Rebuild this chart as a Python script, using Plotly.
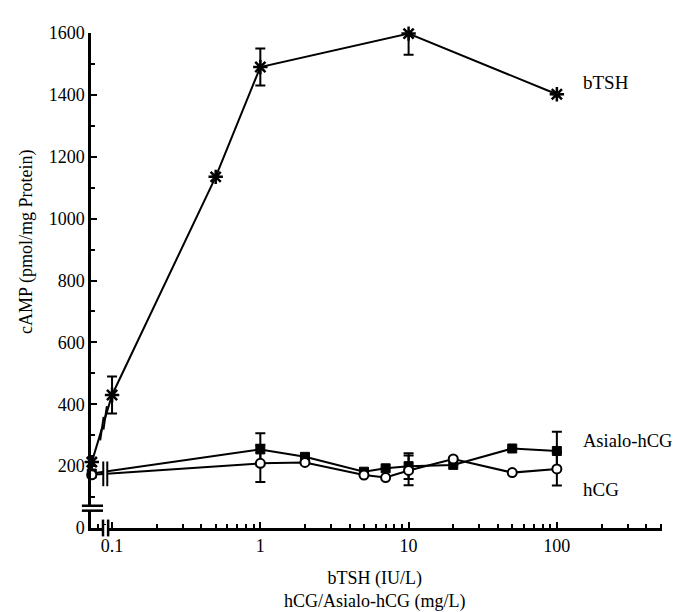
import math
import plotly.graph_objects as go

# ---------------- data ----------------
control_dose = 0.073   # plotted at the broken origin (control, no hormone)
btsh_dose = [control_dose, 0.1, 0.5, 1, 10, 100]
btsh_camp = [213, 430, 1135, 1490, 1598, 1402]
btsh_err = [0, 60, 0, 60, 68, 0]

hcg_dose = [control_dose, 1, 2, 5, 7, 10, 20, 50, 100]
asialo_camp = [176, 254, 230, 182, 193, 200, 204, 257, 249]
asialo_err = [0, 52, 0, 0, 0, 42, 0, 0, 62]
hcg_camp = [172, 209, 212, 171, 163, 186, 223, 179, 191]
hcg_err = [0, 60, 0, 0, 0, 48, 0, 0, 54]

x_tickvals = [0.1, 1, 10, 100]
x_ticktext = ["0.1", "1", "10", "100"]
y_tickvals = [0, 200, 400, 600, 800, 1000, 1200, 1400, 1600]

series_labels = ["bTSH", "Asialo-hCG", "hCG"]

# ---------------- layout constants ----------------
XMIN, XMAX = -1.142, 2.709
FONT = "Liberation Serif"

fig = go.Figure()

line = dict(color="black", width=2)
fig.add_trace(go.Scatter(
    x=btsh_dose, y=btsh_camp, mode="lines+markers", line=line,
    marker=dict(symbol="asterisk-open", size=12, color="black",
                line=dict(color="black", width=2.5)),
    error_y=dict(type="data", array=btsh_err, color="black", thickness=2, width=5),
    cliponaxis=False, showlegend=False))
fig.add_trace(go.Scatter(
    x=hcg_dose, y=asialo_camp, mode="lines+markers", line=line,
    marker=dict(symbol="square", size=9, color="black",
                line=dict(color="black", width=1)),
    error_y=dict(type="data", array=asialo_err, color="black", thickness=2, width=5),
    cliponaxis=False, showlegend=False))
fig.add_trace(go.Scatter(
    x=hcg_dose, y=hcg_camp, mode="lines+markers", line=line,
    marker=dict(symbol="circle", size=9, color="white",
                line=dict(color="black", width=2)),
    error_y=dict(type="data", array=hcg_err, color="black", thickness=2, width=5),
    cliponaxis=False, showlegend=False))

shapes = []
# --- break on bTSH line (between control and 0.1) ---
lx0, ly0 = math.log10(btsh_dose[0]), btsh_camp[0]
lx1, ly1 = math.log10(btsh_dose[1]), btsh_camp[1]
def on_btsh(t):
    return (lx0 + t * (lx1 - lx0) - XMIN) / (XMAX - XMIN), ly0 + t * (ly1 - ly0)
ga = on_btsh(0.50); gb = on_btsh(0.66)
shapes.append(dict(type="line", xref="paper", yref="y", x0=ga[0], y0=ga[1], x1=gb[0], y1=gb[1],
                   line=dict(color="white", width=5), layer="above"))
for t in (0.50, 0.66):
    cx, cy = on_btsh(t)
    shapes.append(dict(type="line", xref="paper", yref="y",
                       x0=cx - 0.003, y0=cy - 38, x1=cx + 0.003, y1=cy + 38,
                       line=dict(color="black", width=2), layer="above"))

# --- break on hCG / Asialo lines ---
bx1, bx2 = 0.0215, 0.0285
shapes.append(dict(type="rect", xref="paper", yref="y", x0=bx1, x1=bx2, y0=150, y1=200,
                   fillcolor="white", line=dict(width=0), layer="above"))
for bx in (bx1, bx2):
    shapes.append(dict(type="line", xref="paper", yref="y", x0=bx, x1=bx, y0=135, y1=215,
                       line=dict(color="black", width=2), layer="above"))

# --- break on x axis ---
shapes.append(dict(type="rect", xref="paper", yref="paper", x0=0.021, x1=0.030, y0=-0.006, y1=0.006,
                   fillcolor="white", line=dict(width=0), layer="above"))
for bx in (0.021, 0.030):
    shapes.append(dict(type="line", xref="paper", yref="paper", x0=bx, x1=bx, y0=-0.017, y1=0.017,
                       line=dict(color="black", width=2.5), layer="above"))
# --- break on y axis ---
shapes.append(dict(type="rect", xref="paper", yref="y", x0=-0.006, x1=0.006, y0=56, y1=72,
                   fillcolor="white", line=dict(width=0), layer="above"))
for by in (56, 72):
    shapes.append(dict(type="line", xref="paper", yref="y", x0=-0.016, x1=0.021, y0=by, y1=by,
                       line=dict(color="black", width=2.5), layer="above"))

annotations = [
    dict(text=series_labels[0], xref="paper", yref="paper", x=0.858, y=0.901,
         xanchor="left", yanchor="middle", showarrow=False, font=dict(size=19)),
    dict(text=series_labels[1], xref="paper", yref="paper", x=0.858, y=0.175,
         xanchor="left", yanchor="middle", showarrow=False, font=dict(size=18.5)),
    dict(text=series_labels[2], xref="paper", yref="paper", x=0.858, y=0.078,
         xanchor="left", yanchor="middle", showarrow=False, font=dict(size=19)),
    dict(text="bTSH (IU/L)<br>hCG/Asialo-hCG (mg/L)", xref="paper", yref="paper",
         x=0.497, y=-0.1253, xanchor="center", yanchor="middle", showarrow=False,
         font=dict(size=18)),
    dict(text="cAMP (pmol/mg Protein)", xref="paper", yref="paper", x=-0.112, y=0.578,
         xanchor="center", yanchor="middle", textangle=-90, showarrow=False, font=dict(size=18)),
]

# page body has an 8px margin: figure is offset by 8px in both directions
fig.update_layout(
    width=673, height=604,
    margin=dict(l=83, r=19, t=25, b=84),
    paper_bgcolor="white", plot_bgcolor="white",
    font=dict(family=FONT, size=18, color="black"),
    shapes=shapes, annotations=annotations,
    xaxis=dict(type="log", range=[XMIN, XMAX], showgrid=False, zeroline=False,
               showline=True, linecolor="black", linewidth=2.5,
               tickmode="array", tickvals=x_tickvals, ticktext=x_ticktext,
               ticks="inside", ticklen=6, tickwidth=2, tickcolor="black",
               minor=dict(ticks="inside", ticklen=4, tickwidth=1.5, tickcolor="black",
                          dtick="D1", showgrid=False),
               tickfont=dict(size=18)),
    yaxis=dict(range=[0, 1600], showgrid=False, zeroline=False,
               showline=True, linecolor="black", linewidth=2.5,
               tickmode="array", tickvals=y_tickvals,
               ticks="inside", ticklen=6, tickwidth=2, tickcolor="black",
               minor=dict(ticks="inside", ticklen=4, tickwidth=1.5, tickcolor="black",
                          dtick=100, showgrid=False),
               tickfont=dict(size=18)),
)

fig.write_html("out.html")
